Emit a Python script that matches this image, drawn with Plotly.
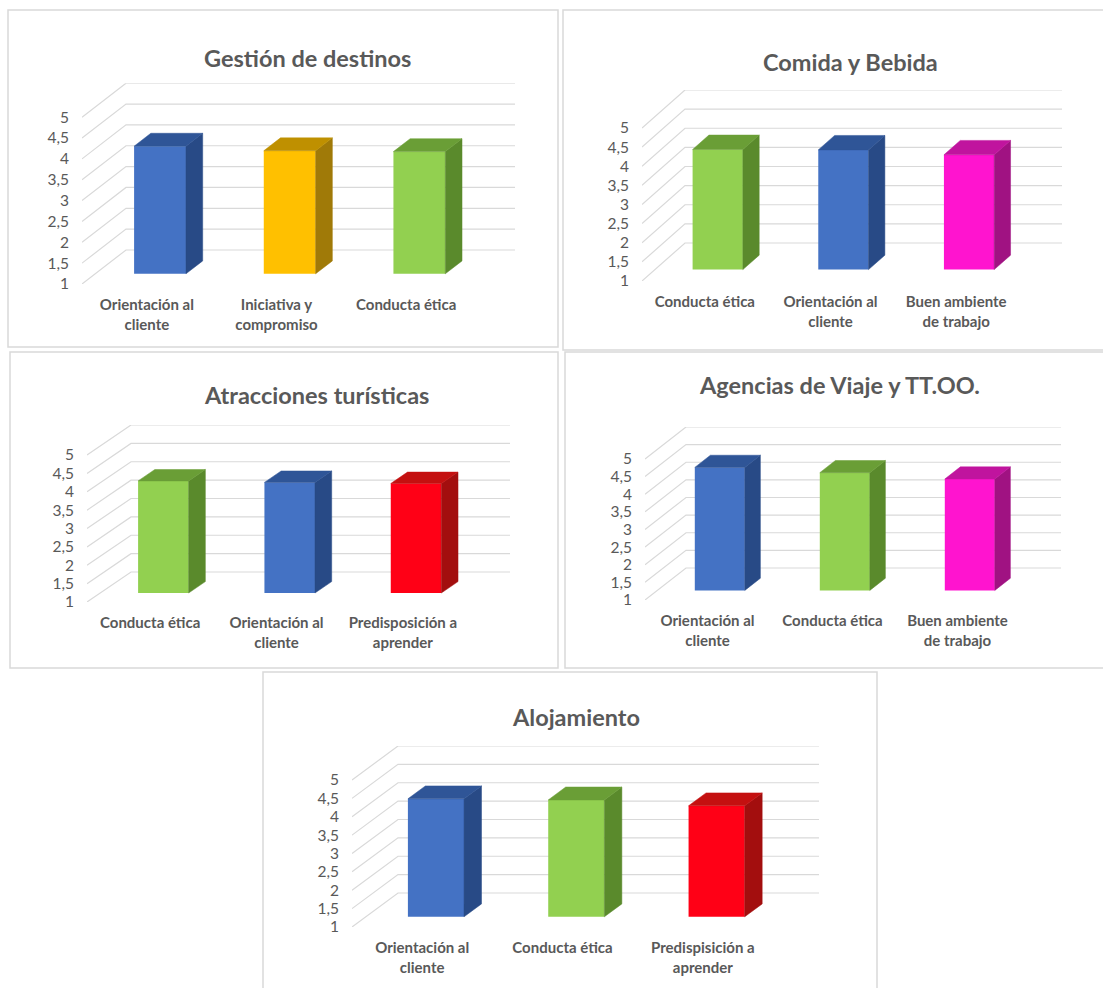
import plotly.graph_objects as go

W, H = 1103, 988

# ---------------- data ----------------
tick_vals = [1, 1.5, 2, 2.5, 3, 3.5, 4, 4.5, 5]
tick_text = ["1", "1,5", "2", "2,5", "3", "3,5", "4", "4,5", "5"]

gestion_title = "Gestión de destinos"
gestion_cats = ["Orientación al<br>cliente", "Iniciativa y<br>compromiso", "Conducta ética"]
gestion_vals = [4.06, 3.95, 3.93]
gestion_cols = ["blue", "yellow", "green"]

comida_title = "Comida y Bebida"
comida_cats = ["Conducta ética", "Orientación al<br>cliente", "Buen ambiente<br>de trabajo"]
comida_vals = [4.14, 4.13, 4.00]
comida_cols = ["green", "blue", "magenta"]

atracciones_title = "Atracciones turísticas"
atracciones_cats = ["Conducta ética", "Orientación al<br>cliente", "Predisposición a<br>aprender"]
atracciones_vals = [4.05, 4.01, 3.98]
atracciones_cols = ["green", "blue", "red"]

agencias_title = "Agencias de Viaje y TT.OO."
agencias_cats = ["Orientación al<br>cliente", "Conducta ética", "Buen ambiente<br>de trabajo"]
agencias_vals = [4.49, 4.34, 4.16]
agencias_cols = ["blue", "green", "magenta"]

alojamiento_title = "Alojamiento"
alojamiento_cats = ["Orientación al<br>cliente", "Conducta ética", "Predispisición a<br>aprender"]
alojamiento_vals = [4.21, 4.18, 4.02]
alojamiento_cols = ["blue", "green", "red"]

# front, top, side shades
palette = {
    "blue": ("#4472C4", "#2F5597", "#284A86"),
    "yellow": ("#FFC000", "#BF9000", "#A07A08"),
    "green": ("#92D050", "#6A9E36", "#5A8A2C"),
    "magenta": ("#FF14CF", "#C0149E", "#A01282"),
    "red": ("#FF0016", "#C41010", "#A30E0E"),
}

# ---------------- layout geometry (pixels) ----------------
# xf: front-left floor x, xb: back-right x, dxp/dyp: depth offset, yf1: front y of value 1, s: px per unit
panels = [
    dict(title=gestion_title, cats=gestion_cats, vals=gestion_vals, cols=gestion_cols,
         xf=82, xb=515, dxp=44, yf1=284, dyp=34, s=41.7, tx=307, ty=58,
         box=(8, 10, 558, 347)),
    dict(title=comida_title, cats=comida_cats, vals=comida_vals, cols=comida_cols,
         xf=642, xb=1062, dxp=43, yf1=281, dyp=38, s=38.25, tx=850, ty=62,
         box=(563, 10, 1110, 350)),
    dict(title=atracciones_title, cats=atracciones_cats, vals=atracciones_vals, cols=atracciones_cols,
         xf=87, xb=510, dxp=44, yf1=602, dyp=30, s=36.75, tx=316, ty=395,
         box=(10, 352, 558, 668)),
    dict(title=agencias_title, cats=agencias_cats, vals=agencias_vals, cols=agencias_cols,
         xf=645, xb=1061, dxp=41, yf1=600, dyp=32, s=35.25, tx=839, ty=385,
         box=(565, 352, 1110, 668)),
    dict(title=alojamiento_title, cats=alojamiento_cats, vals=alojamiento_vals, cols=alojamiento_cols,
         xf=352, xb=819, dxp=46, yf1=927, dyp=34, s=36.75, tx=576, ty=717,
         box=(263, 672, 877, 995)),
]

Z0, Z1, BW = 0.3, 0.68, 0.4
GRID = "#D9D9D9"
TXT = "#595959"
FONT = "Lato"

fig = go.Figure()
shapes = []
annotations = []
layout_axes = {}

for k, p in enumerate(panels, start=1):
    xa = "x" if k == 1 else f"x{k}"
    ya = "y" if k == 1 else f"y{k}"
    slot = (p["xb"] - p["dxp"] - p["xf"]) / 3.0
    DXu = p["dxp"] / slot
    DVu = p["dyp"] / p["s"]
    ytop_px = p["yf1"] - 4 * p["s"] - p["dyp"]

    layout_axes["xaxis" if k == 1 else f"xaxis{k}"] = dict(
        domain=[p["xf"] / W, p["xb"] / W], range=[-0.5, 2.5 + DXu],
        tickvals=[0, 1, 2], ticktext=p["cats"], showgrid=False, zeroline=False,
        showline=False, ticks="", automargin=False, fixedrange=True,
        tickfont=dict(family=FONT, size=15, color=TXT, weight="bold"),
        ticklabelstandoff=10, anchor=ya,
    )
    layout_axes["yaxis" if k == 1 else f"yaxis{k}"] = dict(
        domain=[1 - p["yf1"] / H, 1 - ytop_px / H], range=[1, 5 + DVu],
        tickvals=tick_vals, ticktext=tick_text, showgrid=False, zeroline=False,
        showline=False, ticks="", automargin=False, fixedrange=True,
        tickfont=dict(family=FONT, size=15.5, color=TXT),
        ticklabelstandoff=12, anchor=xa,
    )

    # perspective gridlines
    for v in tick_vals:
        shapes.append(dict(
            type="path", xref=xa, yref=ya, layer="below",
            path=f"M {-0.5},{v} L {-0.5 + DXu},{v + DVu} L {2.5 + DXu},{v + DVu}",
            line=dict(color=GRID, width=1.2),
        ))

    # bar front faces
    xs = [i + Z0 * DXu for i in range(3)]
    fig.add_trace(go.Bar(
        x=xs, y=[v - 1 for v in p["vals"]], base=1 + Z0 * DVu, width=BW,
        marker=dict(color=[palette[c][0] for c in p["cols"]], line=dict(width=0)),
        xaxis=xa, yaxis=ya, hoverinfo="skip", showlegend=False,
    ))

    # side and top faces
    for i, (v, c) in enumerate(zip(p["vals"], p["cols"])):
        xl = i - BW / 2
        xr = i + BW / 2
        b = 1.0
        side_x = [xr + Z0 * DXu, xr + Z1 * DXu, xr + Z1 * DXu, xr + Z0 * DXu, xr + Z0 * DXu]
        side_y = [b + Z0 * DVu, b + Z1 * DVu, v + Z1 * DVu, v + Z0 * DVu, b + Z0 * DVu]
        top_x = [xl + Z0 * DXu, xr + Z0 * DXu, xr + Z1 * DXu, xl + Z1 * DXu, xl + Z0 * DXu]
        top_y = [v + Z0 * DVu, v + Z0 * DVu, v + Z1 * DVu, v + Z1 * DVu, v + Z0 * DVu]
        fig.add_trace(go.Scatter(
            x=side_x, y=side_y, mode="lines", fill="toself",
            fillcolor=palette[c][2], line=dict(color=palette[c][2], width=0.5),
            xaxis=xa, yaxis=ya, hoverinfo="skip", showlegend=False,
        ))
        fig.add_trace(go.Scatter(
            x=top_x, y=top_y, mode="lines", fill="toself",
            fillcolor=palette[c][1], line=dict(color=palette[c][1], width=0.5),
            xaxis=xa, yaxis=ya, hoverinfo="skip", showlegend=False,
        ))

    # panel border
    bx0, by0, bx1, by1 = p["box"]
    shapes.append(dict(
        type="rect", xref="paper", yref="paper", layer="below",
        x0=bx0 / W, x1=bx1 / W, y0=1 - by1 / H, y1=1 - by0 / H,
        line=dict(color="#D9D9D9", width=1.5), fillcolor="rgba(0,0,0,0)",
    ))

    annotations.append(dict(
        text=p["title"], xref="paper", yref="paper",
        x=p["tx"] / W, y=1 - p["ty"] / H, xanchor="center", yanchor="middle",
        showarrow=False, font=dict(family=FONT, size=23.5, color=TXT, weight="bold"),
    ))

fig.update_layout(
    width=W, height=H, margin=dict(l=0, r=0, t=0, b=0),
    template="none", paper_bgcolor="white", plot_bgcolor="rgba(0,0,0,0)",
    showlegend=False, shapes=shapes, annotations=annotations, hovermode=False,
    **layout_axes,
)

fig.write_html("out.html")
